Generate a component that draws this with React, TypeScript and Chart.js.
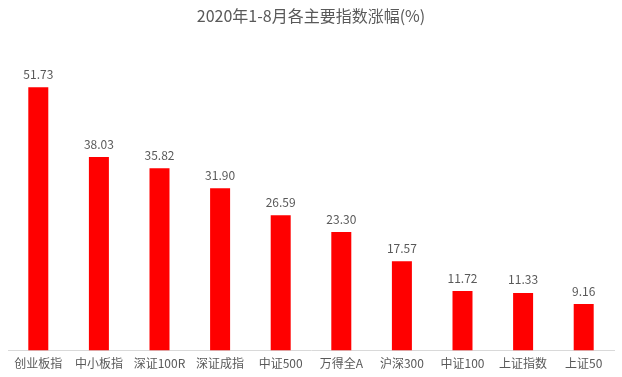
import React, { useEffect, useRef } from "react";
import { Chart, registerables } from "chart.js";
Chart.register(...registerables);

const categories = ["创业板指", "中小板指", "深证100R", "深证成指", "中证500", "万得全A", "沪深300", "中证100", "上证指数", "上证50"];
const values = [51.73, 38.03, 35.82, 31.9, 26.59, 23.3, 17.57, 11.72, 11.33, 9.16];
const titleText = "2020年1-8月各主要指数涨幅(%)";

const FONT = "'Noto Sans CJK SC', 'DejaVu Sans', sans-serif";

const labelPlugin = {
  id: "barLabels",
  afterDatasetsDraw(chart: any) {
    const ctx = chart.ctx;
    const meta = chart.getDatasetMeta(0);
    ctx.save();
    ctx.fillStyle = "#595959";
    ctx.font = `12px ${FONT}`;
    ctx.textAlign = "center";
    ctx.textBaseline = "middle";
    meta.data.forEach((bar: any, i: number) => {
      ctx.fillText(values[i].toFixed(2), bar.x, bar.y - 13);
    });
    ctx.restore();
  },
};

export default function App() {
  const ref = useRef<HTMLCanvasElement>(null);
  useEffect(() => {
    document.body.style.margin = "0";
    const chart = new Chart(ref.current!, {
      type: "bar",
      data: {
        labels: categories,
        datasets: [
          {
            data: values,
            backgroundColor: "#ff0000",
            barPercentage: 0.33,
            categoryPercentage: 1,
          },
        ],
      },
      options: {
        animation: false,
        responsive: false,
        layout: { padding: { left: 8, right: 8, top: 0, bottom: 0 } },
        plugins: {
          legend: { display: false },
          tooltip: { enabled: false },
          title: {
            display: true,
            text: titleText,
            color: "#595959",
            font: { family: FONT, size: 16, weight: "normal" },
            padding: { top: 6, bottom: 20 },
          },
        },
        scales: {
          x: {
            grid: { display: false, drawTicks: false },
            border: { color: "#d9d9d9", width: 1 },
            ticks: { color: "#595959", font: { family: FONT, size: 12 }, padding: 6, maxRotation: 0, autoSkip: false },
          },
          y: { display: false, min: 0, max: 60 },
        },
      },
      plugins: [labelPlugin],
    });
    return () => chart.destroy();
  }, []);
  return (
    <div style={{ position: "fixed", left: 0, top: 0, width: 622, height: 377, background: "#fff" }}>
      <canvas ref={ref} width={622} height={377} />
    </div>
  );
}
